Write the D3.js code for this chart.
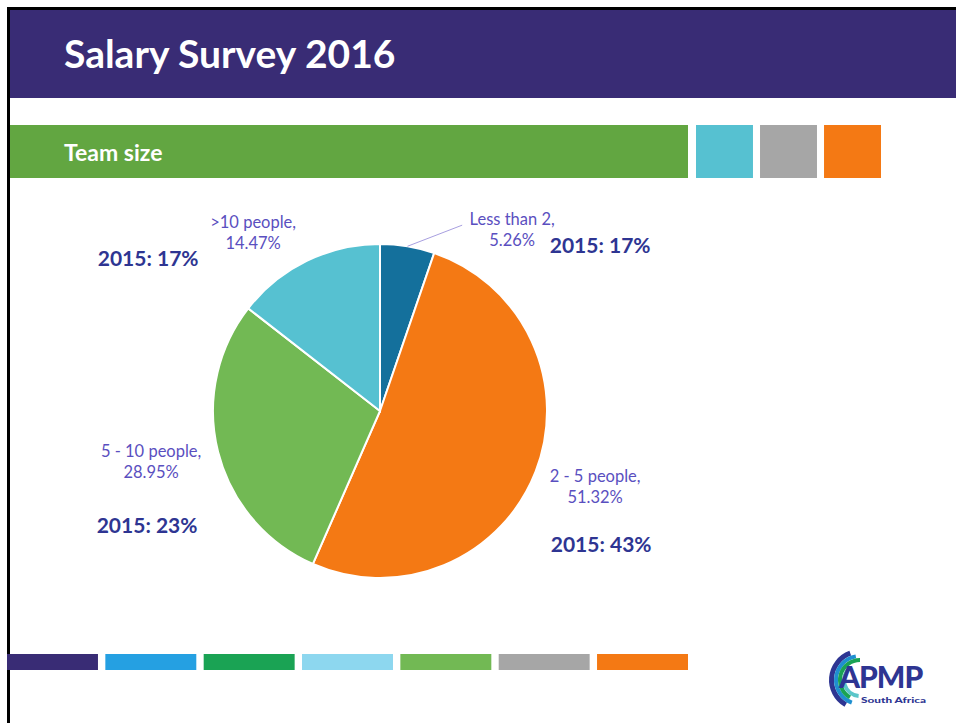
<!DOCTYPE html>
<html lang="en">
<head>
    <meta charset="UTF-8">
    <title>Salary Survey 2016</title>
    <script src="https://cdn.jsdelivr.net/npm/d3@7"></script>
</head>

<style>
    html, body {
        margin: 0;
        padding: 0;
        background: #fff;
    }
    svg { display: block; }
    text { font-family: Lato, "Open Sans", sans-serif; }
</style>
<body>
<svg id="slide" width="956" height="723"></svg>

<script>
    // data
    var categories = ['Less than 2', '2 - 5 people', '5 - 10 people', '>10 people']
    var shares2016 = [5.26, 51.32, 28.95, 14.47]
    var shares2015 = [17, 43, 23, 17]
    var sliceColors = ['#14709c', '#f47914', '#72b954', '#56c1d1']

    // colour strips on the slide
    var topSwatches = ['#56c1d1', '#a6a6a6', '#f47914']
    var bottomStrip = ['#392c75', '#25a0e2', '#1aa354', '#8dd7ef', '#72b954', '#a6a6a6', '#f47914']

    var purple = '#392c75'
    var labelColor = '#5a4fc0'
    var navy = '#2e3592'

    var svg = d3.select('#slide')

    // frame
    svg.append('rect').attr('x', 10).attr('y', 10).attr('width', 946).attr('height', 88).attr('fill', purple)
    svg.append('line').attr('x1', 7).attr('x2', 956).attr('y1', 8.5).attr('y2', 8.5).attr('stroke', '#000').attr('stroke-width', 3)
    svg.append('line').attr('x1', 8.5).attr('x2', 8.5).attr('y1', 7).attr('y2', 723).attr('stroke', '#000').attr('stroke-width', 3)

    svg.append('text').text('Salary Survey 2016')
        .attr('x', 64).attr('y', 68)
        .attr('fill', '#fff').attr('font-size', 39).attr('font-weight', 700)

    // section bar + swatches
    svg.append('rect').attr('x', 10).attr('y', 125).attr('width', 678).attr('height', 53).attr('fill', '#62a641')
    svg.append('text').text('Team size')
        .attr('x', 64).attr('y', 161)
        .attr('fill', '#fff').attr('font-size', 23).attr('font-weight', 700)

    var sw = d3.scaleBand().domain(d3.range(topSwatches.length)).range([696, 881]).paddingInner(0.11).paddingOuter(0)
    svg.selectAll('.sw').data(topSwatches).enter().append('rect')
        .attr('x', function (d, i) { return sw(i) })
        .attr('y', 125).attr('width', sw.bandwidth()).attr('height', 53)
        .attr('fill', function (d) { return d })

    // bottom strip
    var bs = d3.scaleBand().domain(d3.range(bottomStrip.length)).range([7, 688]).paddingInner(0.075).paddingOuter(0)
    svg.selectAll('.bs').data(bottomStrip).enter().append('rect')
        .attr('x', function (d, i) { return bs(i) })
        .attr('y', 654).attr('width', bs.bandwidth()).attr('height', 16)
        .attr('fill', function (d) { return d })

    //
    // pie
    //
    var cx = 380, cy = 411, radius = 167, labelRadius = 232
    var pie = d3.pie().sort(null).value(function (d) { return d })
    var arcs = pie(shares2016)
    var arc = d3.arc().innerRadius(0).outerRadius(radius)
    var labelArc = d3.arc().innerRadius(labelRadius).outerRadius(labelRadius)
    var edgeArc = d3.arc().innerRadius(radius).outerRadius(radius)

    var g = svg.append('g').attr('transform', 'translate(' + cx + ',' + cy + ')')
    g.selectAll('path').data(arcs).enter().append('path')
        .attr('d', arc)
        .attr('fill', function (d, i) { return sliceColors[i] })
        .attr('stroke', '#fff').attr('stroke-width', 2)

    // hand nudges so labels sit where the slide puts them
    var nudge = [[94, 48], [-1, -8], [-4, -6], [-25, 30]]
    var prevOffset = [[88, 23], [6, 65], [-4, 71], [-105, 33]]

    arcs.forEach(function (d, i) {
        var c = labelArc.centroid(d)
        var lx = c[0] + nudge[i][0], ly = c[1] + nudge[i][1]
        var t = g.append('text').attr('text-anchor', 'middle').attr('fill', labelColor).attr('font-size', 16.5)
        t.append('tspan').attr('x', lx).attr('y', ly - 5).text(categories[i] + ',')
        t.append('tspan').attr('x', lx).attr('y', ly + 16).text(shares2016[i].toFixed(2) + '%')

        if (i === 0) {
            var e = edgeArc.centroid(d)
            g.append('line')
                .attr('x1', e[0]).attr('y1', e[1])
                .attr('x2', lx - 50).attr('y2', ly - 5)
                .attr('stroke', '#a89fe0').attr('stroke-width', 1)
        }

        g.append('text')
            .attr('x', lx + prevOffset[i][0]).attr('y', ly + prevOffset[i][1])
            .attr('text-anchor', 'middle').attr('fill', navy)
            .attr('font-size', 21).attr('font-weight', 700)
            .text('2015: ' + shares2015[i] + '%')
    })

    //
    // logo (rough)
    //
    var logo = svg.append('g').attr('transform', 'translate(860,680)')
    var swoosh = [['#2e3592', 26, 31, -150, -20], ['#1f8fd0', 22, 26, -160, -10], ['#1aa354', 18, 22, -150, 0], ['#5cc6c9', 14, 18, -175, -40]]
    swoosh.forEach(function (s) {
        logo.append('path')
            .attr('d', d3.arc().innerRadius(s[1]).outerRadius(s[2])
                .startAngle(s[3] * Math.PI / 180).endAngle(s[4] * Math.PI / 180)())
            .attr('fill', s[0])
    })
    svg.append('text').text('APMP').attr('x', 839).attr('y', 688)
        .attr('fill', navy).attr('font-size', 30).attr('font-weight', 900).attr('letter-spacing', -1)
    svg.append('text').text('South Africa').attr('x', 861).attr('y', 703)
        .attr('fill', navy).attr('font-size', 8).attr('font-weight', 900)
        .attr('textLength', 65).attr('lengthAdjust', 'spacingAndGlyphs')
</script>
</body>
</html>
